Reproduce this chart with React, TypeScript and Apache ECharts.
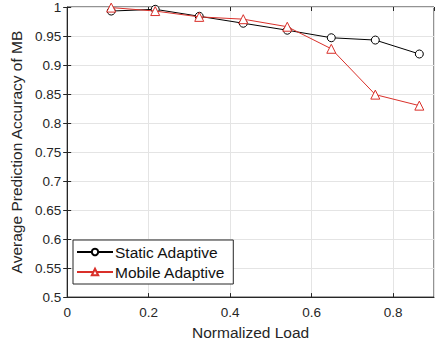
import React, { useEffect, useRef } from "react";
import * as echarts from "echarts";

const loads = [0.108, 0.216, 0.324, 0.432, 0.54, 0.648, 0.756, 0.864];
const staticAdaptive = [0.993, 0.996, 0.984, 0.972, 0.96, 0.947, 0.943, 0.919];
const mobileAdaptive = [0.999, 0.993, 0.983, 0.979, 0.966, 0.928, 0.849, 0.83];
const xTicks = [0, 0.2, 0.4, 0.6, 0.8];
const yTicks = [0.5, 0.55, 0.6, 0.65, 0.7, 0.75, 0.8, 0.85, 0.9, 0.95, 1];

const FONT = "'Liberation Sans', Arial, Helvetica, sans-serif";
const AX = "#262626";

export default function App() {
  const ref = useRef<HTMLDivElement>(null);
  useEffect(() => {
    if (!ref.current) return;
    const chart = echarts.init(ref.current, null, { renderer: "svg" });
    const fmtY = (v: number) => {
      const r = Math.round(v * 100) / 100;
      return yTicks.some((t) => Math.abs(t - r) < 1e-6) ? String(r) : "";
    };
    const fmtX = (v: number) => {
      const r = Math.round(v * 10) / 10;
      return xTicks.some((t) => Math.abs(t - r) < 1e-6) ? String(r) : "";
    };
    const hiddenCommon = {
      axisLine: { show: false },
      axisLabel: { show: false },
      splitLine: { show: false },
      axisTick: { show: true, inside: true, length: 4, lineStyle: { color: AX } },
    };
    chart.setOption({
      animation: false,
      backgroundColor: "#fff",
      textStyle: { fontFamily: FONT },
      grid: {
        left: 62,
        right: 2,
        top: 7,
        bottom: 47,
        show: true,
        borderColor: AX,
        borderWidth: 1,
        backgroundColor: "#fff",
      },
      legend: {
        orient: "vertical",
        left: 73,
        top: 240,
        backgroundColor: "#fff",
        borderColor: AX,
        borderWidth: 1,
        borderRadius: 0,
        padding: [4, 8, 4, 3],
        itemGap: 4,
        itemWidth: 36,
        itemHeight: 8,
        textStyle: { fontFamily: FONT, fontSize: 15.5, color: "#111", padding: [0, 0, 0, -3] },
        data: ["Static Adaptive", "Mobile Adaptive"],
      },
      xAxis: [
        {
          type: "value",
          min: 0,
          max: 0.9,
          interval: 0.2,
          name: "Normalized Load",
          nameLocation: "middle",
          nameGap: 26,
          nameTextStyle: { fontFamily: FONT, fontSize: 15.5, color: AX },
          axisLine: { show: true, lineStyle: { color: AX } },
          axisTick: { show: true, inside: true, length: 4, lineStyle: { color: AX } },
          axisLabel: {
            fontFamily: FONT,
            fontSize: 13.5,
            color: AX,
            margin: 8,
            formatter: fmtX,
            showMaxLabel: false,
          },
          splitLine: { show: true, lineStyle: { color: "#e4e4e4", width: 1 } },
        },
        {
          type: "value",
          position: "top",
          min: 0,
          max: 0.9,
          interval: 0.2,
          ...hiddenCommon,
        },
      ],
      yAxis: [
        {
          type: "value",
          min: 0.5,
          max: 1,
          interval: 0.05,
          name: "Average Prediction Accuracy of MB",
          nameLocation: "middle",
          nameGap: 37,
          nameTextStyle: { fontFamily: FONT, fontSize: 15.5, color: AX },
          axisLine: { show: true, lineStyle: { color: AX } },
          axisTick: { show: true, inside: true, length: 4, lineStyle: { color: AX } },
          axisLabel: { fontFamily: FONT, fontSize: 13.5, color: AX, margin: 6, formatter: fmtY },
          splitLine: { show: true, lineStyle: { color: "#e4e4e4", width: 1 } },
        },
        {
          type: "value",
          position: "right",
          min: 0.5,
          max: 1,
          interval: 0.05,
          ...hiddenCommon,
        },
      ],
      series: [
        {
          name: "Static Adaptive",
          type: "line",
          data: loads.map((x, i) => [x, staticAdaptive[i]]),
          symbol: "circle",
          symbolSize: 8,
          showAllSymbol: true,
          lineStyle: { color: "#000", width: 1 },
          itemStyle: { color: "#fff", borderColor: "#000", borderWidth: 1 },
          color: "#000",
          z: 3,
        },
        {
          name: "Mobile Adaptive",
          type: "line",
          data: loads.map((x, i) => [x, mobileAdaptive[i]]),
          symbol: "triangle",
          symbolSize: 9,
          lineStyle: { color: "#d9302a", width: 1 },
          itemStyle: { color: "#fff", borderColor: "#d9302a", borderWidth: 1 },
          color: "#d9302a",
          z: 4,
        },
      ],
    });
    return () => chart.dispose();
  }, []);
  return <div ref={ref} style={{ width: 436, height: 345, position: "absolute", left: 0, top: 0 }} />;
}
